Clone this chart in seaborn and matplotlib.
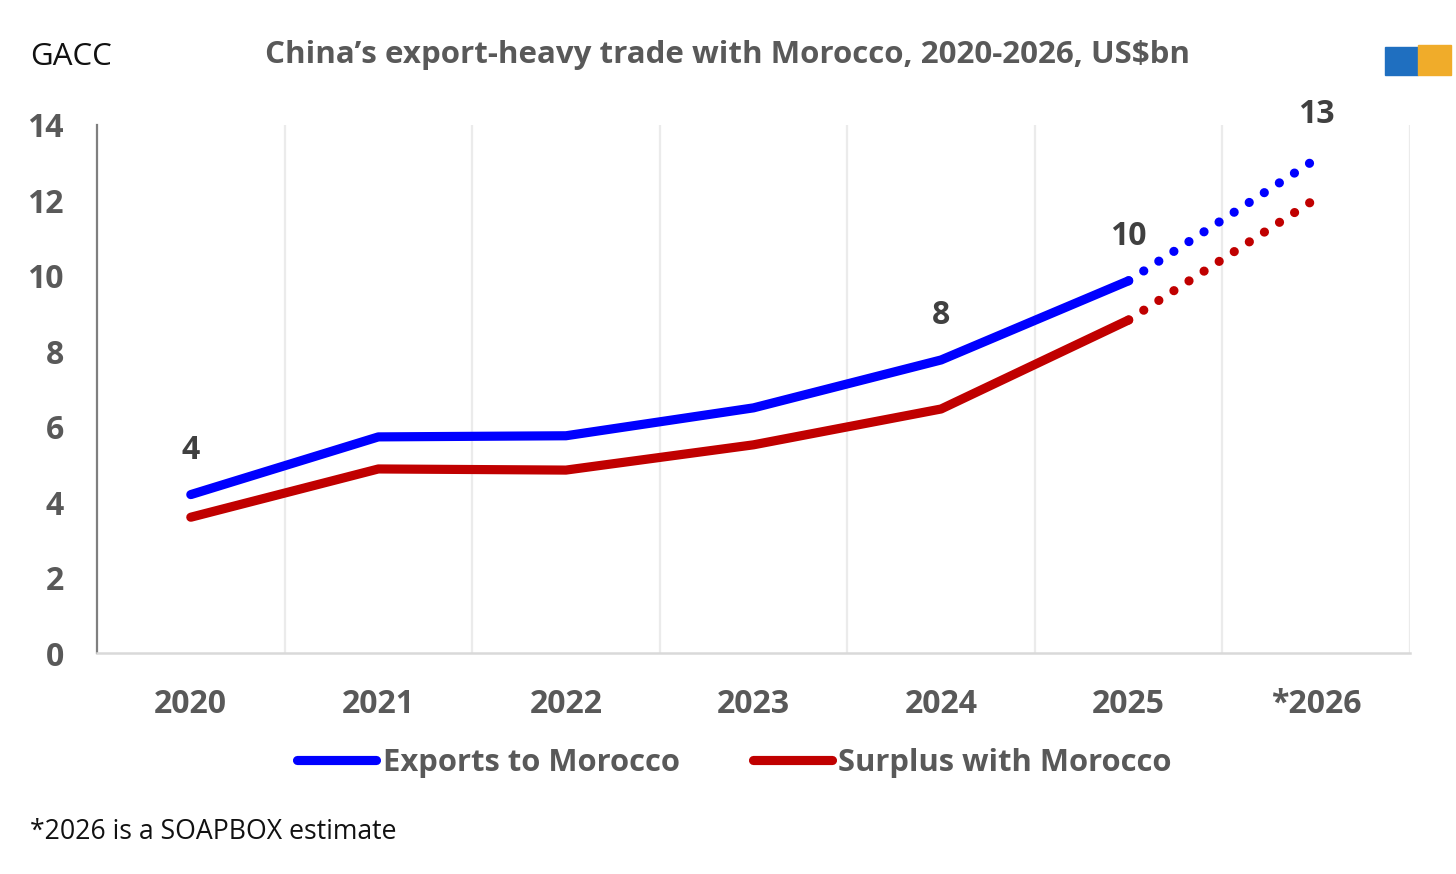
import matplotlib
matplotlib.use("Agg")
import matplotlib.pyplot as plt
import matplotlib.patches as mpatches
from matplotlib.lines import Line2D
import seaborn as sns
import pandas as pd

# Values (US$bn)
years = ["2020", "2021", "2022", "2023", "2024", "2025", "*2026"]
exports = [4.2, 5.73, 5.76, 6.5, 7.77, 9.87, 13.1]
surplus = [3.6, 4.88, 4.85, 5.52, 6.47, 8.83, 12.05]
label_years = ["2020", "2024", "2025", "*2026"]
label_text = ["4", "8", "10", "13"]

BLUE = "#0000ff"
RED = "#c00000"
GREY = "#595959"

sns.set_theme(style="white")
plt.rcParams["font.family"] = ["Open Sans", "DejaVu Sans"]

df = pd.DataFrame({"year": years, "pos": range(len(years)),
                   "Exports to Morocco": exports, "Surplus with Morocco": surplus})
actual = df.iloc[:6]
forecast = df.iloc[5:]

fig = plt.figure(figsize=(14.56, 8.74), dpi=100)
ax = fig.add_axes([97 / 1456, 1 - 653 / 874, (1410 - 97) / 1456, (653 - 125) / 874])

lw = 6.6
for col, colour in [("Exports to Morocco", BLUE), ("Surplus with Morocco", RED)]:
    sns.lineplot(data=actual, x="pos", y=col, ax=ax, color=colour, lw=lw,
                 solid_capstyle="round", legend=False)
    sns.lineplot(data=forecast, x="pos", y=col, ax=ax, color=colour, lw=lw,
                 linestyle=(0, (0.01, 1.95)), dash_capstyle="round", legend=False)

# data labels above the export line
for yr, txt in zip(label_years, label_text):
    i = years.index(yr)
    ax.annotate(txt, (i, exports[i]), xytext=(0, 32), textcoords="offset points",
                ha="center", va="center", fontsize=23, fontweight="bold", color="#404040")

ax.set_xlim(-0.5, len(years) - 0.5)
ax.set_ylim(0, 14)
ax.set_yticks(range(0, 15, 2))
ax.set_xticks(range(len(years)))
ax.set_xticklabels(years)
ax.set_xlabel("")
ax.set_ylabel("")
ax.tick_params(axis="both", length=0, labelsize=23, labelcolor=GREY)
ax.tick_params(axis="x", pad=25)
ax.tick_params(axis="y", pad=24)
for lab in ax.get_xticklabels() + ax.get_yticklabels():
    lab.set_fontweight("bold")

# vertical grid at category boundaries
for b in range(1, len(years) + 1):
    ax.axvline(b - 0.5, color="#ebebeb", lw=1.6, zorder=0)

for s in ["top", "right"]:
    ax.spines[s].set_visible(False)
ax.spines["left"].set_color("#7f7f7f")
ax.spines["left"].set_linewidth(1.6)
ax.spines["bottom"].set_color("#d9d9d9")
ax.spines["bottom"].set_linewidth(1.8)

handles = [Line2D([], [], color=BLUE, lw=lw, solid_capstyle="round"),
           Line2D([], [], color=RED, lw=lw, solid_capstyle="round")]
leg = fig.legend(handles, ["Exports to Morocco", "Surplus with Morocco"],
                 loc="center", bbox_to_anchor=(0.5045, 1 - 763 / 874), ncol=2,
                 frameon=False, handlelength=2.55, handletextpad=0.22, columnspacing=2.35,
                 prop={"size": 22.3, "weight": "bold"})
for t in leg.get_texts():
    t.set_color(GREY)

fig.text(265 / 1456, 1 - 55 / 874, "China\u2019s export-heavy trade with Morocco, 2020-2026, US$bn",
         ha="left", va="center", fontsize=22.5, fontweight="bold", color=GREY)
fig.text(30 / 1456, 1 - 57 / 874, "GACC", ha="left", va="center", fontsize=22.5, color="#111111")
fig.text(30 / 1456, 1 - 832 / 874, "*2026 is a SOAPBOX estimate", ha="left", va="center",
         fontsize=19.2, color="#111111")

# small stand-in for the container logo
fig.patches.append(mpatches.Rectangle((1385 / 1456, 1 - 75 / 874), 33 / 1456, 28 / 874,
                                      transform=fig.transFigure, color="#1f6fc0"))
fig.patches.append(mpatches.Rectangle((1418 / 1456, 1 - 75 / 874), 33 / 1456, 30 / 874,
                                      transform=fig.transFigure, color="#f0ac2a"))

fig.savefig("out.png", dpi=100)
